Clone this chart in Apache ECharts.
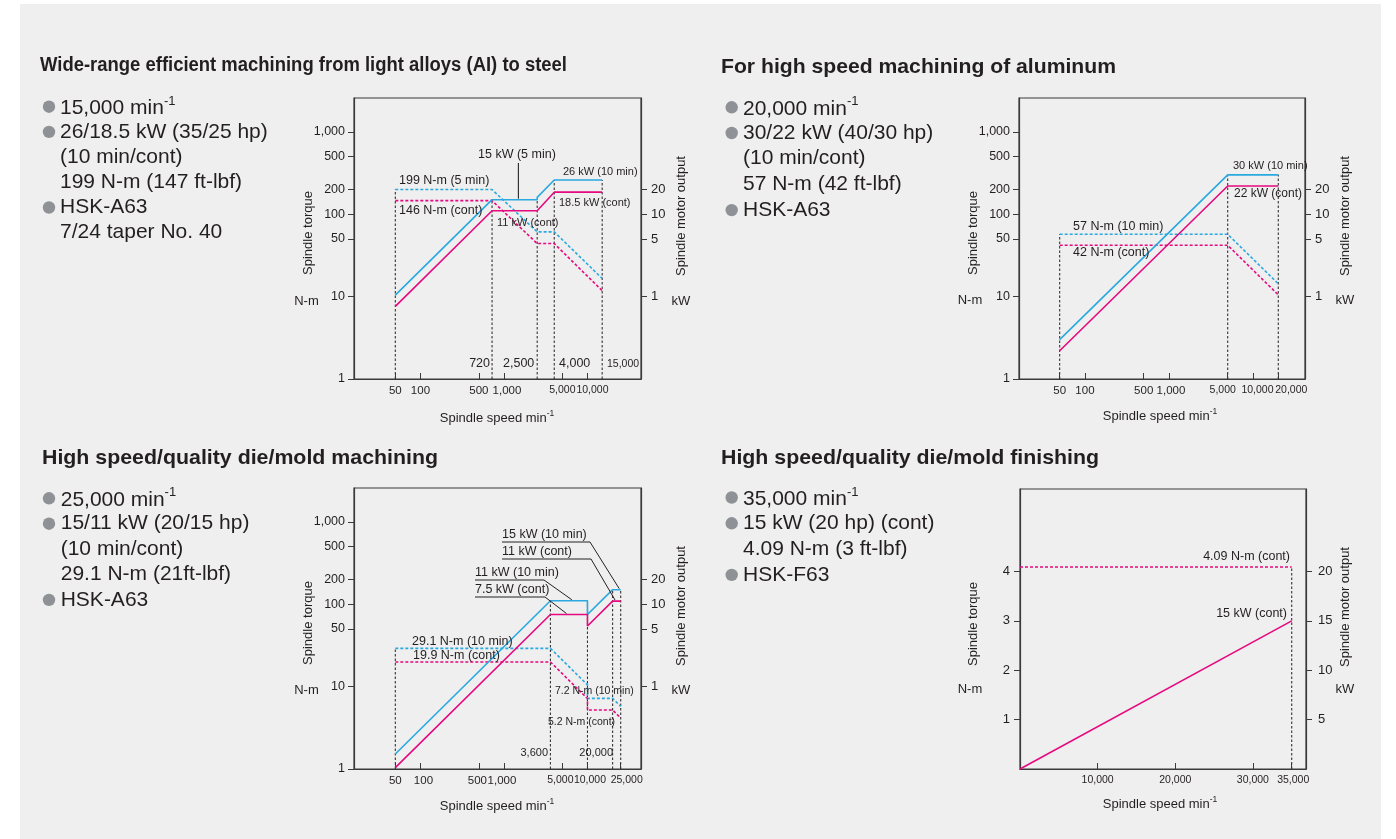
<!DOCTYPE html>
<html>
<head>
<meta charset="utf-8">
<title>Spindle torque / output curves</title>
<script src="https://cdn.jsdelivr.net/npm/echarts@6/dist/echarts.min.js"></script>
<style>
  html, body { margin: 0; padding: 0; background: #fff; }
  #chart { width: 1396px; height: 839px; }
</style>
</head>
<body>
<div id="chart"></div>
<script>
// ---- chart 1: 15,000 min-1 spindle ----
const c1TorqueSpeed = [50, 720, 2500, 4000, 15000];
const c1Torque5min = [199, 199, 61, 61, 16.6];
const c1TorqueCont = [146, 146, 44, 44, 11.8];
const c1PowerSpeed = [50, 720, 2500, 2500, 4000, 15000];
const c1Power5min = [1.04, 15, 15, 16, 26, 26];
const c1PowerCont = [0.76, 11, 11, 11.5, 18.5, 18.5];
const c1Guides = [50, 720, 2500, 4000, 15000];
const c1GuideTop = [199, 150, 150, 260, 260];

// ---- chart 2: 20,000 min-1 spindle ----
const c2Speed = [50, 5000, 20000];
const c2Torque10min = [57, 57, 14.3];
const c2TorqueCont = [42, 42, 10.5];
const c2Power10min = [0.3, 30, 30];
const c2PowerCont = [0.22, 22, 22];
const c2Guides = [50, 5000, 20000];
const c2GuideTop = [57, 300, 300];

// ---- chart 3: 25,000 min-1 spindle ----
const c3Speed = [50, 3600, 10000, 10000, 20000, 25000];
const c3Torque10min = [29.1, 29.1, 10.5, 7.2, 7.2, 5.76];
const c3TorqueCont = [19.9, 19.9, 7.16, 5.2, 5.2, 4.16];
const c3Power10min = [0.152, 11, 11, 7.5, 15, 15];
const c3PowerCont = [0.104, 7.5, 7.5, 5.44, 10.9, 10.9];
const c3Guides = [50, 3600, 10000, 20000, 25000];
const c3GuideTop = [29.1, 110, 110, 150, 150];

// ---- chart 4: 35,000 min-1 spindle (linear) ----
const c4Speed = [0, 35000];
const c4TorqueCont = [4.09, 4.09];
const c4PowerCont = [0, 15];
const c4Guides = [35000];
const c4GuideTop = [4.09];

// tick labels
const logTorqueTicks = [1, 10, 50, 100, 200, 500, 1000];
const logPowerTicks = [1, 5, 10, 20];
const c1SpeedTicks = [50, 100, 500, 1000, 5000, 10000];
const c2SpeedTicks = [50, 100, 500, 1000, 5000, 10000, 20000];
const c3SpeedTicks = [50, 100, 500, 1000, 5000, 10000, 25000];
const c4SpeedTicks = [10000, 20000, 30000, 35000];
const c4TorqueTicks = [1, 2, 3, 4];
const c4PowerTicks = [5, 10, 15, 20];

const FONT = '"Liberation Sans", Arial, Helvetica, sans-serif';
const INK = '#231f20';
const AXIS = '#3a3a3a';
const BLUE = '#2aa9e0';
const PINK = '#e6097f';

const grids = [
  { left: 354, top: 98, width: 287, height: 281 },
  { left: 1019, top: 98, width: 286, height: 281 },
  { left: 354, top: 488, width: 287, height: 281 },
  { left: 1020, top: 489, width: 286, height: 280 }
];

const fmt = v => Number(v).toLocaleString('en-US');

// the printed speed labels are nudged sideways where they crowd each other
function speedRich(ticks, nudge) {
  const rich = {};
  ticks.forEach(v => {
    const dx = nudge[v] || 0;
    rich['k' + v] = {
      fontSize: v >= 5000 ? 10.5 : 11.5, fontFamily: FONT, color: INK,
      padding: dx >= 0 ? [0, 0, 0, dx * 2] : [0, -dx * 2, 0, 0]
    };
  });
  return rich;
}

function xAxisOf(gi, type, min, max, ticks, nudge) {
  return {
    type: type, gridIndex: gi, min: min, max: max, logBase: 10,
    axisLine: { show: true, lineStyle: { color: AXIS, width: 1.2 } },
    axisTick: { show: true, inside: true, length: 6, customValues: ticks, lineStyle: { color: AXIS } },
    axisLabel: {
      customValues: ticks, formatter: v => '{k' + v + '|' + fmt(v) + '}', rich: speedRich(ticks, nudge),
      color: INK, fontFamily: FONT, margin: 6, showMinLabel: true, showMaxLabel: true, hideOverlap: false
    },
    splitLine: { show: false }
  };
}
function yAxisOf(gi, type, pos, min, max, ticks, margin, size) {
  return {
    type: type, gridIndex: gi, position: pos, min: min, max: max, logBase: 10,
    axisLine: { show: true, lineStyle: { color: AXIS, width: 1.2 } },
    axisTick: { show: true, inside: false, length: 6, customValues: ticks, lineStyle: { color: AXIS } },
    axisLabel: {
      customValues: ticks, formatter: fmt, fontSize: size, color: INK, fontFamily: FONT, margin: margin,
      showMinLabel: true, showMaxLabel: true
    },
    splitLine: { show: false }
  };
}

function curve(ai, xs, ys, color, dashed) {
  return {
    type: 'line', xAxisIndex: ai, yAxisIndex: dashed ? ai * 2 : ai * 2 + 1,
    data: xs.map((x, i) => [x, ys[i]]), symbol: 'none', silent: true, z: 4,
    lineStyle: { color: color, width: 1.6, type: dashed ? [3, 2] : 'solid' }
  };
}
function guides(ai, xs, tops, bottom) {
  return xs.map((x, i) => ({
    type: 'line', xAxisIndex: ai, yAxisIndex: ai * 2,
    data: [[x, bottom], [x, tops[i]]], symbol: 'none', silent: true, z: 3,
    lineStyle: { color: '#333', width: 1.1, type: [2.5, 2] }
  }));
}

const chart = echarts.init(document.getElementById('chart'), null, { renderer: 'canvas' });

const option = {
  animation: false,
  backgroundColor: '#ffffff',
  grid: grids.map(g => Object.assign({ show: true, borderColor: AXIS, borderWidth: 1.2 }, g)),
  xAxis: [
    xAxisOf(0, 'log', 16, 43750, c1SpeedTicks, { 1000: 3, 10000: 5 }),
    xAxisOf(1, 'log', 16.4, 41600, c2SpeedTicks, { 1000: 2, 5000: -5, 10000: 4.5, 20000: 13 }),
    xAxisOf(2, 'log', 16, 43750, c3SpeedTicks, { 100: 3, 500: -1.5, 1000: -2, 5000: -2, 10000: 2.5, 25000: 6 }),
    xAxisOf(3, 'value', 0, 36840, c4SpeedTicks, { 35000: 1.5 })
  ],
  yAxis: [
    yAxisOf(0, 'log', 'left', 1, 2570, logTorqueTicks, 9, 12.5),
    yAxisOf(0, 'log', 'right', 0.1, 257, logPowerTicks, 10, 13),
    yAxisOf(1, 'log', 'left', 1, 2570, logTorqueTicks, 9, 12.5),
    yAxisOf(1, 'log', 'right', 0.1, 257, logPowerTicks, 10, 13),
    yAxisOf(2, 'log', 'left', 1, 2570, logTorqueTicks, 9, 12.5),
    yAxisOf(2, 'log', 'right', 0.1, 257, logPowerTicks, 10, 13),
    yAxisOf(3, 'value', 'left', 0, 5.67, c4TorqueTicks, 10, 13),
    yAxisOf(3, 'value', 'right', 0, 28.35, c4PowerTicks, 12, 13)
  ],
  series: [].concat(
    guides(0, c1Guides, c1GuideTop, 1),
    guides(1, c2Guides, c2GuideTop, 1),
    guides(2, c3Guides, c3GuideTop, 1),
    guides(3, c4Guides, c4GuideTop, 0),
    [
      curve(0, c1TorqueSpeed, c1Torque5min, BLUE, true),
      curve(0, c1TorqueSpeed, c1TorqueCont, PINK, true),
      curve(0, c1PowerSpeed, c1Power5min, BLUE, false),
      curve(0, c1PowerSpeed, c1PowerCont, PINK, false),
      curve(1, c2Speed, c2Torque10min, BLUE, true),
      curve(1, c2Speed, c2TorqueCont, PINK, true),
      curve(1, c2Speed, c2Power10min, BLUE, false),
      curve(1, c2Speed, c2PowerCont, PINK, false),
      curve(2, c3Speed, c3Torque10min, BLUE, true),
      curve(2, c3Speed, c3TorqueCont, PINK, true),
      curve(2, c3Speed, c3Power10min, BLUE, false),
      curve(2, c3Speed, c3PowerCont, PINK, false),
      curve(3, c4Speed, c4TorqueCont, PINK, true),
      curve(3, c4Speed, c4PowerCont, PINK, false)
    ]
  )
};
chart.setOption(option);

// ---------- texts, bullets, leader lines ----------
const els = [];
els.push({ type: 'rect', z: -10, silent: true, shape: { x: 20, y: 4, width: 1361, height: 835 }, style: { fill: '#efefef' } });

const measure = document.createElement('canvas').getContext('2d');
function txt(x, y, str, o) {
  o = o || {};
  const el = {
    type: 'text', x: x, y: y, z: 20, silent: true, rotation: o.rot || 0,
    style: {
      text: str, fontSize: o.size || 12.5, fontWeight: o.bold ? 'bold' : 'normal', fontFamily: FONT,
      fill: INK, align: o.align || 'left', verticalAlign: o.va || 'middle', rich: o.rich
    }
  };
  if (o.fitWidth) {
    measure.font = (o.bold ? 'bold ' : '') + (o.size || 12.5) + 'px ' + FONT;
    el.scaleX = o.fitWidth / measure.measureText(str).width;
  }
  els.push(el);
}
function supRich(base, sup) {
  return {
    m: { fontSize: base, fontFamily: FONT, fill: INK, lineHeight: base + 3, verticalAlign: 'bottom' },
    s: { fontSize: sup, fontFamily: FONT, fill: INK, lineHeight: sup + 2, verticalAlign: 'top' }
  };
}

// titles
txt(40, 65, 'Wide-range efficient machining from light alloys (AI) to steel', { size: 20, bold: true, fitWidth: 527 });
txt(721, 67, 'For high speed machining of aluminum', { size: 20.5, bold: true, fitWidth: 395 });
txt(42, 458, 'High speed/quality die/mold machining', { size: 20.5, bold: true, fitWidth: 396 });
txt(721, 458, 'High speed/quality die/mold finishing', { size: 20.5, bold: true, fitWidth: 378 });

// spec blocks
const c1Spec = ['{m|15,000 min}{s|-1}', '26/18.5 kW (35/25 hp)', '(10 min/cont)', '199 N-m (147 ft-lbf)', 'HSK-A63', '7/24 taper No. 40'];
const c1SpecBullet = [1, 1, 0, 0, 1, 0];
const c2Spec = ['{m|20,000 min}{s|-1}', '30/22 kW (40/30 hp)', '(10 min/cont)', '57 N-m (42 ft-lbf)', 'HSK-A63'];
const c2SpecBullet = [1, 1, 0, 0, 1];
const c3Spec = ['{m|25,000 min}{s|-1}', '15/11 kW (20/15 hp)', '(10 min/cont)', '29.1 N-m (21ft-lbf)', 'HSK-A63'];
const c3SpecBullet = [1, 1, 0, 0, 1];
const c4Spec = ['{m|35,000 min}{s|-1}', '15 kW (20 hp) (cont)', '4.09 N-m (3 ft-lbf)', 'HSK-F63'];
const c4SpecBullet = [1, 1, 0, 1];

function specBlock(lines, bullets, bx, tx, y0, step) {
  lines.forEach((s, i) => {
    const y = y0 + i * step;
    if (bullets[i]) {
      els.push({ type: 'circle', z: 20, silent: true, shape: { cx: bx, cy: y, r: 6.2 }, style: { fill: '#8e9195' } });
    }
    txt(tx, y, s, { size: 21, rich: s.indexOf('{m|') === 0 ? supRich(21, 13) : undefined });
  });
}
specBlock(c1Spec, c1SpecBullet, 49, 60, 106.7, 25.2);
specBlock(c2Spec, c2SpecBullet, 731.7, 743, 107.3, 25.7);
specBlock(c3Spec, c3SpecBullet, 49, 60.7, 498.3, 25.4);
specBlock(c4Spec, c4SpecBullet, 731.7, 743, 497.5, 25.8);

// axis names
function axisNames(g, tqX, nmX, outX, spX, spY, nmY) {
  txt(tqX, g.top + 135, 'Spindle torque', { size: 13, align: 'center', rot: Math.PI / 2 });
  txt(nmX, nmY, 'N-m', { size: 13, align: 'center' });
  txt(outX, g.top + 118, 'Spindle motor output', { size: 13, align: 'center', rot: Math.PI / 2 });
  txt(outX, nmY, 'kW', { size: 13, align: 'center' });
  txt(spX, spY, '{m|Spindle speed min}{s|-1}', { size: 13, align: 'center', rich: supRich(13, 8.5) });
}
axisNames(grids[0], 308, 306.5, 681, 497, 417, 301);
axisNames(grids[1], 973, 970, 1345, 1160, 415, 300);
axisNames(grids[2], 308, 306.5, 681, 497, 805, 690);
axisNames(grids[3], 973, 970, 1345, 1160, 803, 689);

// curve annotations
const notes = [
  ['199 N-m (5 min)', 399, 181, 12.5, 'left'],
  ['146 N-m (cont)', 399, 211, 12.5, 'left'],
  ['15 kW (5 min)', 478, 155, 12.5, 'left'],
  ['26 kW (10 min)', 563, 172, 11, 'left'],
  ['18.5 kW (cont)', 559, 203, 11, 'left'],
  ['11 kW (cont)', 497, 223, 11, 'left'],
  ['720', 490, 364, 12.5, 'right'],
  ['2,500', 503, 364, 12.5, 'left'],
  ['4,000', 559, 364, 12.5, 'left'],
  ['15,000', 607, 364, 10.5, 'left'],
  ['30 kW (10 min)', 1233, 166, 11, 'left'],
  ['22 kW (cont)', 1234, 194, 12, 'left'],
  ['57 N-m (10 min)', 1073, 227, 12.5, 'left'],
  ['42 N-m (cont)', 1073, 253, 12.5, 'left'],
  ['29.1 N-m (10 min)', 412, 642, 12.5, 'left'],
  ['19.9 N-m (cont)', 413, 656, 12.5, 'left'],
  ['7.2 N-m (10 min)', 555, 691, 10.5, 'left'],
  ['5.2 N-m (cont)', 548, 722, 10.5, 'left'],
  ['3,600', 548, 753, 11, 'right'],
  ['20,000', 613, 753, 11, 'right'],
  ['4.09 N-m (cont)', 1290, 557, 12.5, 'right'],
  ['15 kW (cont)', 1287, 614, 12.5, 'right']
];
notes.forEach(n => txt(n[1], n[2], n[0], { size: n[3], align: n[4] }));

// leader lines: text at (x,y), underline to ux, then to a point on the curve
const leaders = [
  { text: '15 kW (10 min)', x: 502, y: 535, ux: 590, grid: 2, at: [24000, 15] },
  { text: '11 kW (cont)', x: 502, y: 552, ux: 591, grid: 2, at: [21400, 10.9] },
  { text: '11 kW (10 min)', x: 475, y: 573, ux: 544, grid: 2, at: [6500, 11] },
  { text: '7.5 kW (cont)', x: 475, y: 590, ux: 545, grid: 2, at: [5600, 7.5] }
];
leaders.forEach(l => {
  const p = chart.convertToPixel({ xAxisIndex: l.grid, yAxisIndex: l.grid * 2 + 1 }, l.at);
  txt(l.x, l.y, l.text, { size: 12.5 });
  els.push({
    type: 'polyline', z: 20, silent: true,
    shape: { points: [[l.x, l.y + 7], [l.ux, l.y + 7], [p[0], p[1] - 1]] },
    style: { stroke: '#222', lineWidth: 1, fill: null }
  });
});
// vertical leader for "15 kW (5 min)"
const v1 = chart.convertToPixel({ xAxisIndex: 0, yAxisIndex: 1 }, [1490, 15]);
els.push({
  type: 'line', z: 20, silent: true,
  shape: { x1: v1[0], y1: 163, x2: v1[0], y2: v1[1] - 1 },
  style: { stroke: '#333', lineWidth: 1.2 }
});

chart.setOption({ graphic: { elements: els } });
</script>
</body>
</html>
